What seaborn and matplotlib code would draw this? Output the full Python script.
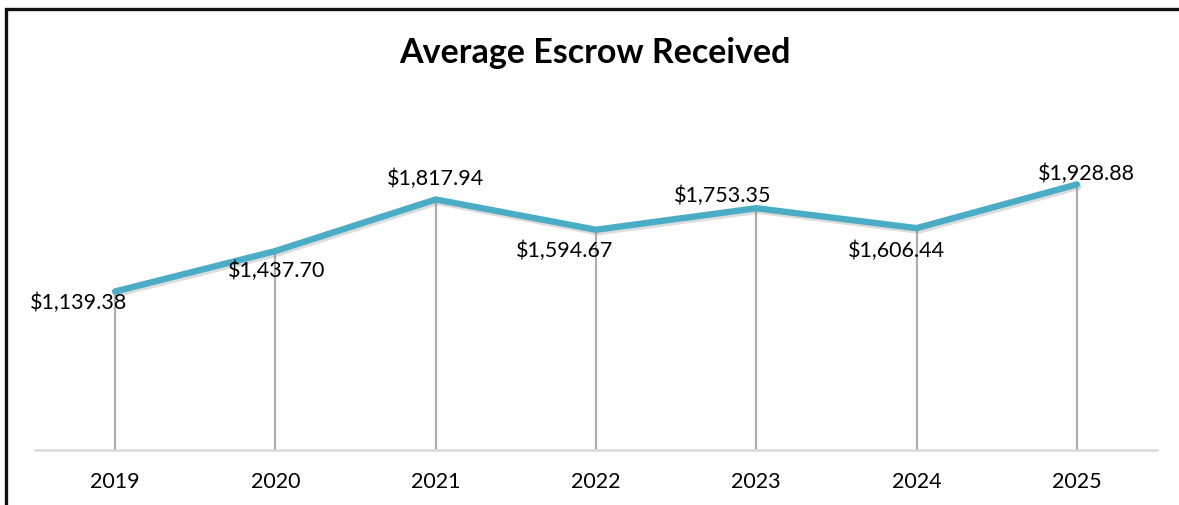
import matplotlib
matplotlib.use("Agg")
import matplotlib.pyplot as plt
import matplotlib.patheffects as pe
from matplotlib.patches import Rectangle
import seaborn as sns
import pandas as pd

years = ["2019", "2020", "2021", "2022", "2023", "2024", "2025"]
values = [1139.38, 1437.70, 1817.94, 1594.67, 1753.35, 1606.44, 1928.88]
labels = ["$1,139.38", "$1,437.70", "$1,817.94", "$1,594.67", "$1,753.35", "$1,606.44", "$1,928.88"]
title = "Average Escrow Received"

# label offsets (pixels) relative to each point — styling only
label_offsets = [(-37, -11), (1, -20), (0, 21), (-31, -21), (-34, 12), (-20, -23), (10, 11)]

sns.set_style("white")
plt.rcParams["font.family"] = ["Lato", "DejaVu Sans"]

W, H = 1179, 505
fig = plt.figure(figsize=(W / 100, H / 100), dpi=100)
ax = fig.add_axes([35 / W, (H - 450) / H, 1122 / W, 343 / H])

df = pd.DataFrame({"x": range(len(years)), "y": values})

line_color = "#4BACC6"
ymin = -30
ax.vlines(df["x"], ymin, df["y"], colors="#AEAEAE", linewidth=1.6, zorder=1)
sns.lineplot(data=df, x="x", y="y", ax=ax, color=line_color, linewidth=4.6,
             solid_capstyle="round", solid_joinstyle="miter", zorder=3,
             path_effects=[pe.SimpleLineShadow(offset=(1.2, -1.8), shadow_color="#777777", alpha=0.25),
                           pe.Normal()])

for i, (v, lab) in enumerate(zip(values, labels)):
    dx, dy = label_offsets[i]
    ax.annotate(lab, (i, v), xytext=(dx, dy), textcoords="offset pixels",
                ha="center", va="center", fontsize=15.5, color="#000000", zorder=4)

ax.set_xlim(-0.5, len(years) - 0.5)
ax.set_ylim(ymin, 2500)
ax.set_xticks(range(len(years)))
ax.set_xticklabels(years, fontsize=15.5, color="#000000")
ax.set_yticks([])
ax.set_xlabel("")
ax.set_ylabel("")
ax.tick_params(axis="x", length=0, pad=16)
for s in ["top", "right", "left"]:
    ax.spines[s].set_visible(False)
ax.spines["bottom"].set_color("#D9D9D9")
ax.spines["bottom"].set_linewidth(1.8)

fig.text(595 / W, 1 - 53 / H, title, ha="center", va="center", fontsize=24.5, fontweight="bold", color="#000000")

# chart frame
fig.patches.append(Rectangle((6 / W, -0.2), 1.2, 1 - 8.5 / H + 0.2, transform=fig.transFigure,
                             fill=False, edgecolor="#111111", linewidth=2.4, zorder=10))

fig.savefig("out.png", dpi=100)
